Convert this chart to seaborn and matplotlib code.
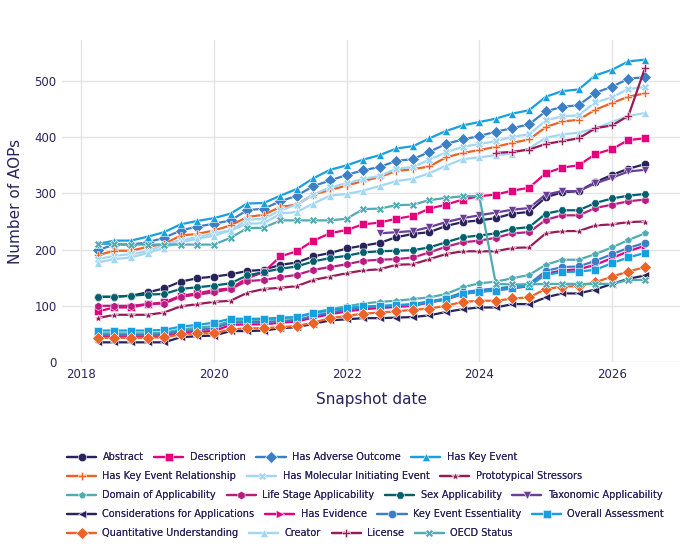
import numpy as np
import pandas as pd
import matplotlib
matplotlib.use("Agg")
import matplotlib.pyplot as plt
import matplotlib.dates as mdates
import seaborn as sns

dates = pd.date_range("2018-04-01", periods=34, freq="QS")
N = np.nan

abstract = [116,116,118,124,131,143,149,152,156,162,164,173,177,188,194,202,207,212,222,228,231,242,249,252,256,264,267,293,302,304,320,333,344,352]
description = [90,97,97,103,106,118,122,128,131,149,160,188,197,216,229,235,245,248,255,260,273,280,289,295,298,305,310,336,346,350,370,379,395,398]
has_adverse_outcome = [199,209,209,213,221,234,241,246,252,270,273,286,296,313,323,333,341,347,358,361,374,388,396,402,410,416,423,446,454,457,479,490,504,507]
has_key_event = [210,216,216,223,231,245,251,256,264,282,283,296,308,327,342,350,360,368,380,384,398,411,421,427,433,442,448,472,482,485,510,520,535,538]
has_ker = [190,198,198,205,210,225,228,234,243,258,262,276,280,298,306,314,322,329,340,343,348,364,372,377,383,390,396,418,428,431,449,461,472,478]
has_mie = [183,189,192,197,209,217,222,229,234,253,255,270,280,298,311,318,326,331,344,347,360,373,383,388,393,401,405,430,437,439,462,471,486,489]
prototypical_stressors = [78,84,84,84,88,99,103,107,109,123,130,132,135,146,152,158,163,165,173,174,183,192,197,197,197,203,204,229,233,233,243,245,249,250]
domain_applicability = [51,51,51,51,52,58,61,64,73,74,75,77,80,88,94,99,104,107,109,112,115,121,133,140,143,149,155,173,182,182,192,204,217,229]
life_stage = [100,100,100,103,104,116,120,124,130,144,146,151,155,164,169,174,180,182,183,186,195,205,213,216,221,229,231,253,261,261,274,280,286,289]
sex_applicability = [116,116,118,120,121,130,133,136,140,154,160,166,170,179,185,189,195,197,198,199,204,213,222,225,229,237,240,264,270,270,283,291,296,299]
taxonomic = [N,N,N,N,N,N,N,N,N,N,N,N,N,N,N,N,N,229,231,233,240,249,256,261,266,271,274,298,304,304,318,328,339,342]
considerations = [35,35,35,35,35,44,46,47,55,55,56,60,62,68,74,76,78,78,79,80,83,89,94,97,97,103,103,115,122,122,129,139,148,154]
has_evidence = [45,45,45,45,46,52,54,55,66,67,67,70,72,79,85,90,94,96,98,100,106,111,121,125,128,131,135,157,163,165,173,185,197,207]
ke_essentiality = [48,48,48,48,49,55,57,60,70,71,71,73,75,82,88,93,97,99,101,103,108,113,124,128,131,134,139,162,169,170,180,192,203,212]
overall_assessment = [56,56,56,56,57,63,66,70,77,77,77,79,80,87,92,96,99,100,101,102,106,112,121,125,127,131,136,155,160,161,164,176,186,194]
quantitative = [43,43,43,43,44,49,51,51,58,60,60,62,64,70,78,82,86,88,90,93,95,100,107,109,109,113,115,130,134,135,142,152,161,169]
creator = [177,183,186,194,203,213,219,225,234,246,247,264,267,282,296,299,305,313,322,326,336,349,361,364,368,371,380,399,405,408,416,427,438,443]
license_ = [N,N,N,N,N,N,N,N,N,N,N,N,N,N,N,N,N,N,N,N,N,N,N,N,372,374,378,388,393,398,416,421,438,523]
oecd_status = [210,210,209,209,209,209,209,209,221,238,239,252,252,252,252,255,272,273,279,280,288,292,295,295,139,138,138,139,139,139,139,139,146,146]

names = ["Abstract", "Description", "Has Adverse Outcome", "Has Key Event",
         "Has Key Event Relationship", "Has Molecular Initiating Event", "Prototypical Stressors",
         "Domain of Applicability", "Life Stage Applicability", "Sex Applicability", "Taxonomic Applicability",
         "Considerations for Applications", "Has Evidence", "Key Event Essentiality", "Overall Assessment",
         "Quantitative Understanding", "Creator", "License", "OECD Status"]
series = [abstract, description, has_adverse_outcome, has_key_event, has_ker, has_mie,
          prototypical_stressors, domain_applicability, life_stage, sex_applicability, taxonomic,
          considerations, has_evidence, ke_essentiality, overall_assessment, quantitative,
          creator, license_, oecd_status]

base_colors = ["#29235c", "#e6007e", "#3d7fc6", "#16a0e0", "#ec6227", "#a2d7f4",
               "#961b58", "#50abb2", "#b91c80", "#00606c", "#6b3e97"]
base_markers = ["o", "s", "D", "^", "P", "X", "*", "p", "h", "H", "v", "<", ">"]
palette = {n: base_colors[i % len(base_colors)] for i, n in enumerate(names)}
markers = {n: base_markers[i % len(base_markers)] for i, n in enumerate(names)}

frames = []
for n, vals in zip(names, series):
    frames.append(pd.DataFrame({"date": dates, "count": vals, "field": n}))
df = pd.concat(frames, ignore_index=True)

sns.set_theme(style="white")
txt = "#29235c"
plt.rcParams["font.family"] = ["DejaVu Sans"]

fig = plt.figure(figsize=(7, 5.6), dpi=100)
ax = fig.add_axes([62/700, 1-362/560, (680-62)/700, (362-40)/560])

sns.lineplot(data=df, x="date", y="count", hue="field", style="field",
             hue_order=names, style_order=names, palette=palette, markers=markers,
             dashes=False, linewidth=1.6, markersize=6, markeredgewidth=0.4,
             ax=ax, legend=True)

ax.set_xlim(pd.Timestamp("2017-09-16"), pd.Timestamp("2027-01-10"))
ax.set_ylim(0, 573)
ax.set_yticks([0, 100, 200, 300, 400, 500])
ax.xaxis.set_major_locator(mdates.YearLocator(2))
ax.xaxis.set_major_formatter(mdates.DateFormatter("%Y"))
ax.grid(True, color="#e5e5e5", linewidth=1.0)
ax.set_axisbelow(True)
for s in ax.spines.values():
    s.set_visible(False)
ax.tick_params(axis="both", length=0, labelsize=8.5, colors=txt, pad=4)
ax.set_xlabel("Snapshot date", fontsize=11, color=txt, labelpad=8)
ax.set_ylabel("Number of AOPs", fontsize=11, color=txt, labelpad=8)

handles, labels = ax.get_legend_handles_labels()
hmap = dict(zip(labels, handles))
ax.get_legend().remove()

rows = [names[0:4], names[4:7], names[7:11], names[11:15], names[15:19]]
row_y = [457, 476, 495, 514, 533]
for r, yc in zip(rows, row_y):
    leg = fig.legend([hmap[n] for n in r], r, loc="center left",
                     bbox_to_anchor=(67/700, 1-yc/560), ncol=len(r), frameon=False,
                     fontsize=7, handlelength=3.0, handletextpad=0.65, columnspacing=1.1,
                     borderpad=0, borderaxespad=0, numpoints=1, labelcolor=txt)
    fig.add_artist(leg)

fig.savefig("out.png", dpi=100, facecolor="white")
